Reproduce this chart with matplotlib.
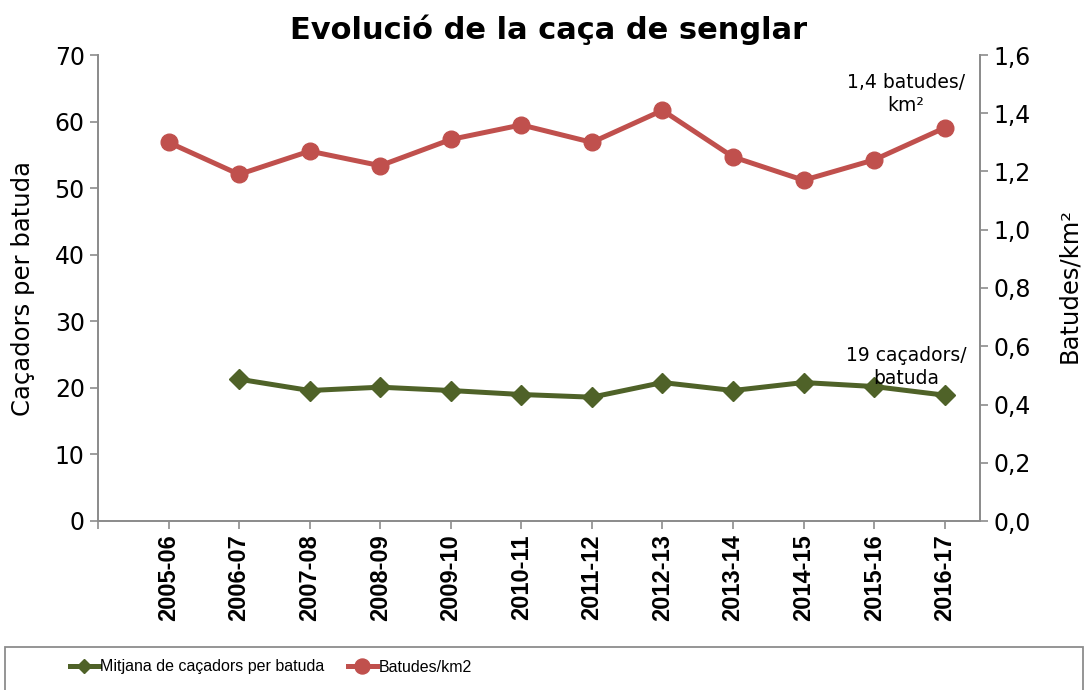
import numpy as np
import matplotlib
matplotlib.use("Agg")
import matplotlib.pyplot as plt
from matplotlib.patches import Rectangle
from matplotlib.ticker import FuncFormatter, MultipleLocator

# Dades
temporades = ["2005-06", "2006-07", "2007-08", "2008-09", "2009-10", "2010-11",
              "2011-12", "2012-13", "2013-14", "2014-15", "2015-16", "2016-17"]
cacadors = [np.nan, 21.3, 19.6, 20.1, 19.6, 19.0, 18.6, 20.8, 19.6, 20.8, 20.2, 18.9]
batudes_km2 = [1.30, 1.19, 1.27, 1.22, 1.31, 1.36, 1.30, 1.41, 1.25, 1.17, 1.24, 1.35]

verd = "#4F6228"
vermell = "#C0504D"
gris = "#8C8C8C"

plt.rcParams["font.family"] = ["DejaVu Sans"]

fig = plt.figure(figsize=(10.86, 6.9), dpi=100)
ax = fig.add_axes([98 / 1086, 1 - 521 / 690, (980 - 98) / 1086, (521 - 55) / 690])
ax2 = ax.twinx()

x = np.arange(len(temporades))

l1, = ax.plot(x, cacadors, color=verd, lw=3.6, marker="D", markersize=10,
              label="Mitjana de caçadors per batuda")
l2, = ax2.plot(x, batudes_km2, color=vermell, lw=3.6, marker="o", markersize=12,
               label="Batudes/km2")

ax.set_xlim(-1, len(temporades) - 0.5)
ax.set_ylim(0, 70)
ax2.set_ylim(0, 1.6)
ax.yaxis.set_major_locator(MultipleLocator(10))
ax2.yaxis.set_major_locator(MultipleLocator(0.2))
ax2.yaxis.set_major_formatter(FuncFormatter(lambda v, p: f"{v:.1f}".replace(".", ",")))

ax.set_xticks(np.arange(-1, len(temporades)))
ax.set_xticklabels([""] + temporades, rotation=90, fontsize=18.5, fontweight="bold",
                   family="Liberation Sans")

for a in (ax, ax2):
    for s in a.spines.values():
        s.set_color(gris)
        s.set_linewidth(1.3)
    a.spines["top"].set_visible(False)
    a.tick_params(colors=gris, labelcolor="black", length=6, width=1.2, labelsize=17)

# Títols dels eixos
fig.text(23 / 1086, 1 - 288 / 690, "Caçadors per batuda", rotation=90, ha="center", va="center",
         fontsize=17.5)
fig.text(1069 / 1086, 1 - 285 / 690, "Batudes/km²", rotation=90, ha="center", va="center",
         fontsize=17.5)

fig.text(549 / 1086, 1 - 30 / 690, "Evolució de la caça de senglar", ha="center", va="center",
         fontsize=22, fontweight="bold")

fig.text(906 / 1086, 1 - 94 / 690, "1,4 batudes/\nkm²", ha="center", va="center",
         fontsize=13.5, linespacing=1.25)
fig.text(906 / 1086, 1 - 367 / 690, "19 caçadors/\nbatuda", ha="center", va="center",
         fontsize=13.5, linespacing=1.25)

# Llegenda
fig.patches.append(Rectangle((5 / 1086, -0.02), 1078 / 1086, 1 - 647 / 690 + 0.02,
                             transform=fig.transFigure, fill=False, edgecolor=gris, lw=1.3))
prop = {"family": "Liberation Sans", "size": 11.5}
fig.legend(handles=[l1], loc="center left", bbox_to_anchor=(70 / 1086, 1 - 667 / 690),
           frameon=False, handlelength=1.8, handletextpad=0.1, borderpad=0,
           borderaxespad=0, prop=prop, markerscale=0.7)
fig.legend(handles=[l2], loc="center left", bbox_to_anchor=(348 / 1086, 1 - 667 / 690),
           frameon=False, handlelength=1.8, handletextpad=0.1, borderpad=0,
           borderaxespad=0, prop=prop, markerscale=0.9)

fig.savefig("out.png", dpi=100)
